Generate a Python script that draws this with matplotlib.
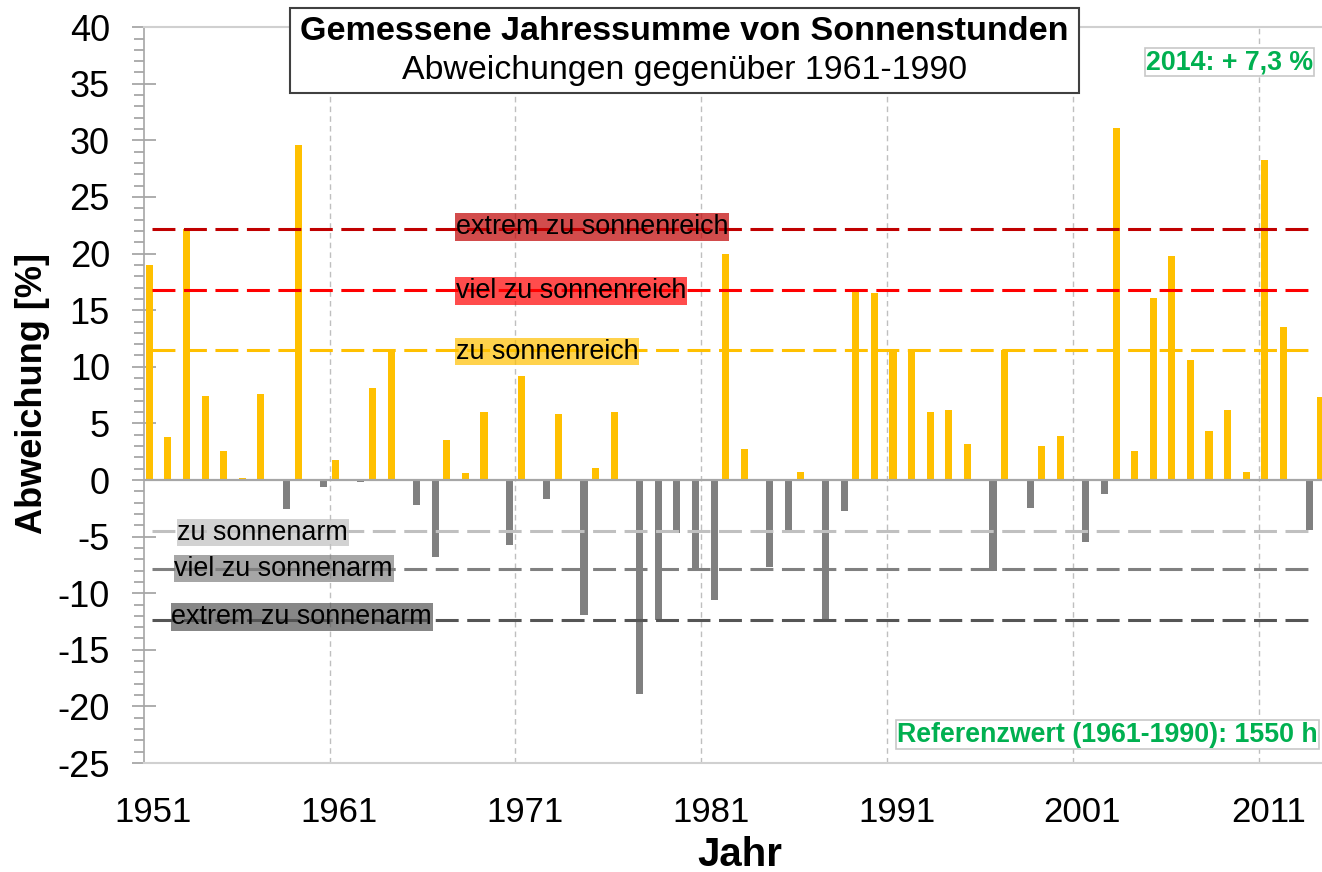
import numpy as np
import matplotlib
matplotlib.use("Agg")
import matplotlib.pyplot as plt
from matplotlib.colors import to_rgba
from matplotlib.patches import Rectangle

plt.rcParams['font.family'] = ['Liberation Sans', 'DejaVu Sans']
plt.rcParams['axes.unicode_minus'] = False

# Jahressumme Sonnenstunden, Abweichung gegenueber 1961-1990 in %
years = list(range(1951, 2015))
anomaly = [19.0, 3.8, 22.2, 7.4, 2.6, 0.2, 7.6, -2.6, 29.6, -0.6,
           1.8, -0.2, 8.1, 11.3, -2.2, -6.8, 3.5, 0.6, 6.0, -5.7,
           9.2, -1.7, 5.8, -11.9, 1.1, 6.0, -18.9, -12.4, -4.7, -7.9,
           -10.6, 20.0, 2.7, -7.7, -4.4, 0.7, -12.4, -2.7, 16.8, 16.5,
           11.5, 11.5, 6.0, 6.2, 3.2, -8.0, 11.5, -2.5, 3.0, 3.9,
           -5.5, -1.2, 31.1, 2.6, 16.1, 19.8, 10.6, 4.3, 6.2, 0.7,
           28.3, 13.5, -4.4, 7.3]

# Schwellen
sunny_levels = [22.2, 16.8, 11.5]
sunny_labels = ["extrem zu sonnenreich", "viel zu sonnenreich", "zu sonnenreich"]
sunny_colors = ["#C00000", "#FF0000", "#FFC000"]
dull_levels = [-4.5, -7.9, -12.4]
dull_labels = ["zu sonnenarm", "viel zu sonnenarm", "extrem zu sonnenarm"]
dull_colors = ["#C0C0C0", "#808080", "#555555"]

tick_years = [1951, 1961, 1971, 1981, 1991, 2001, 2011]

W, H = 1322, 872
fig = plt.figure(figsize=(W / 100, H / 100), dpi=100)
ax = fig.add_axes([143.6 / W, 109 / H, 1189.8 / W, 735.8 / H])

x = np.arange(len(years))
vals = np.array(anomaly)
pos = np.where(vals > 0, vals, 0)
neg = np.where(vals < 0, vals, 0)

# Gitter
for k in range(10, 61, 10):
    ax.axvline(k - 0.5, color="#BFBFBF", lw=1, ls=(0, (4, 3)), zorder=0)

ax.bar(x - 0.19, pos, width=0.38, color="#FFC000", linewidth=0, zorder=2)
ax.bar(x + 0.19, neg, width=0.38, color="#808080", linewidth=0, zorder=2)
ax.axhline(0, color="#A6A6A6", lw=1.6, zorder=3)

# Schwellenlinien + Beschriftungen
label_y_sunny = [22.35, 16.7, 11.35]
for lv, lab, c, ty in zip(sunny_levels, sunny_labels, sunny_colors, label_y_sunny):
    ax.hlines(lv, -0.05, 62.4, colors=c, lw=2.2, linestyles=[(0, (7.5, 2.8))], zorder=4)
    ax.text(16.28, ty, lab, fontsize=19.4, va="center", ha="left", zorder=5,
            bbox=dict(boxstyle="square,pad=0.03", fc=to_rgba(c, 0.7), ec="none"))

label_y_dull = [-4.64, -7.82, -12.1]
label_x_dull = [1.32, 1.16, 1.0]
for lv, lab, c, ty, tx in zip(dull_levels, dull_labels, dull_colors, label_y_dull, label_x_dull):
    ax.hlines(lv, -0.05, 62.4, colors=c, lw=2.2, linestyles=[(0, (7.5, 2.8))], zorder=4)
    ax.text(tx, ty, lab, fontsize=19.4, va="center", ha="left", zorder=5,
            bbox=dict(boxstyle="square,pad=0.03", fc=to_rgba(c, 0.7), ec="none"))

ax.set_xlim(-0.5, 63.5)
ax.set_ylim(-25, 40)
ax.set_yticks(np.arange(-25, 41, 5))
ax.set_yticks(np.arange(-25, 41, 1), minor=True)
ax.tick_params(axis="y", which="major", direction="inout", length=17, width=1.2,
               color="#A0A0A0", pad=15.7, labelsize=26)
ax.tick_params(axis="y", which="minor", direction="out", length=7, width=1.2, color="#A0A0A0")
ax.set_xticks([y - 1951 for y in tick_years])
ax.set_xticklabels([str(y) for y in tick_years])
ax.tick_params(axis="x", length=0, pad=24, labelsize=25)

ax.spines["left"].set_color("#A6A6A6")
ax.spines["left"].set_linewidth(1.2)
for s in ["top", "bottom"]:
    ax.spines[s].set_color("#D0D0D0")
    ax.spines[s].set_linewidth(1.5)
ax.spines["right"].set_visible(False)

fig.text(33 / W, 1 - 393 / H, "Abweichung [%]", rotation=90, fontsize=26,
         fontweight="bold", ha="center", va="center")
fig.text(740 / W, 17 / H, "Jahr", fontsize=29, fontweight="bold", ha="center", va="center")

# Titelkasten
fig.patches.append(Rectangle((290 / W, 1 - 93 / H), 789 / W, 85 / H, transform=fig.transFigure,
                             fc="white", ec="#404040", lw=1.5, zorder=1))
fig.text(684.5 / W, 1 - 31.5 / H, "Gemessene Jahressumme von Sonnenstunden", fontsize=24.6,
         fontweight="bold", ha="center", va="center", zorder=3)
fig.text(684.5 / W, 1 - 71 / H, "Abweichungen gegenüber 1961-1990", fontsize=24.4,
         ha="center", va="center", zorder=3)

green = "#00B050"
fig.text(1229.5 / W, 1 - 62 / H, "2014: + 7,3 %", fontsize=19.3, fontweight="bold", color=green,
         ha="center", va="center", zorder=3,
         bbox=dict(boxstyle="square,pad=0.05", fc="white", ec="#C8C8C8", lw=1.2))
fig.text(1107.5 / W, 1 - 734.5 / H, "Referenzwert (1961-1990): 1550 h", fontsize=19.3,
         fontweight="bold", color=green, ha="center", va="center", zorder=3,
         bbox=dict(boxstyle="square,pad=0.05", fc="white", ec="#C8C8C8", lw=1.2))

fig.savefig("out.png", dpi=100)
